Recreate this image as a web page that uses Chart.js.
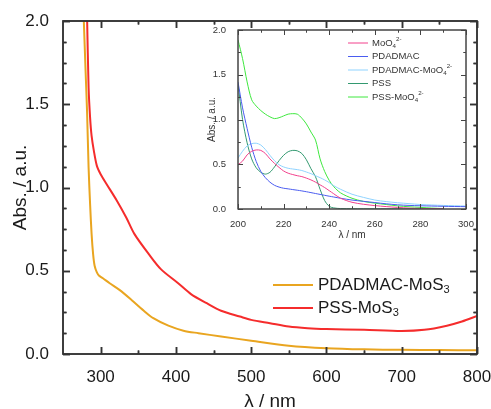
<!DOCTYPE html>
<html>
<head>
<meta charset="utf-8">
<script src="https://cdn.jsdelivr.net/npm/chart.js@4.4.1/dist/chart.umd.min.js"></script>
<style>
  body { margin: 0; background: #fff; }
  #wrap { position: relative; width: 491px; height: 409px; }
  #main { position: absolute; left: 0; top: 0; }
  #inset { position: absolute; left: 195px; top: 20px; }
</style>
</head>
<body>
<div id="wrap">
  <canvas id="main" width="491" height="409"></canvas>
  <canvas id="inset" width="285" height="225"></canvas>
</div>
<script>
// UV-Vis Spektren: Hauptplot (MoS3) + Einsatz (Vorstufen)

const FONT = "'Liberation Sans', Arial, sans-serif";

// Hauptplot
const orangeLam = [277.5, 280, 282, 284, 286, 288, 290, 292, 295, 298, 303, 312, 325, 341, 356, 370, 390, 410, 430, 460, 500, 550, 600, 650, 700, 750, 800];
const orangeAbs = [2.02, 1.7, 1.45, 1.12, 0.9, 0.72, 0.6, 0.53, 0.49, 0.47, 0.455, 0.425, 0.385, 0.325, 0.265, 0.215, 0.17, 0.14, 0.125, 0.105, 0.08, 0.05, 0.035, 0.028, 0.025, 0.024, 0.022];
const redLam = [282, 284, 286, 288, 291, 295, 300, 308, 321, 334, 345, 364, 380, 403, 420, 441, 460, 485, 500, 525, 550, 575, 600, 650, 700, 730, 760, 780, 800];
const redAbs = [2.02, 1.6, 1.42, 1.31, 1.22, 1.13, 1.08, 1.02, 0.925, 0.82, 0.72, 0.6, 0.51, 0.425, 0.36, 0.305, 0.26, 0.225, 0.205, 0.185, 0.165, 0.155, 0.15, 0.145, 0.138, 0.145, 0.17, 0.195, 0.228];
const mainLabels = ["PDADMAC-MoS_{3}", "PSS-MoS_{3}"];
const mainXTicks = [300, 400, 500, 600, 700, 800];
const mainXMinor = [350, 450, 550, 650, 750];
const mainYTicks = [0, 0.5, 1.0, 1.5, 2.0];
const mainYMinor = [0.125, 0.25, 0.375, 0.625, 0.75, 0.875, 1.125, 1.25, 1.375, 1.625, 1.75, 1.875];

// Einsatz
const insetLam = [200, 202, 204, 206, 208, 210, 212, 214, 216, 218, 220, 222, 224, 226, 228, 230, 232, 234, 236, 238, 240, 242, 245, 250, 255, 260, 265, 270, 275, 280, 285, 290, 300];
const moo4Abs = [0.495, 0.535, 0.605, 0.645, 0.66, 0.655, 0.62, 0.56, 0.51, 0.465, 0.425, 0.4, 0.385, 0.372, 0.362, 0.345, 0.325, 0.3, 0.27, 0.24, 0.205, 0.17, 0.12, 0.075, 0.053, 0.038, 0.027, 0.018, 0.01, 0.006, 0.004, 0.003, null];
const pdadmacAbs = [1.42, 1.13, 0.9, 0.69, 0.53, 0.42, 0.35, 0.3, 0.265, 0.245, 0.232, 0.225, 0.217, 0.21, 0.202, 0.193, 0.183, 0.173, 0.163, 0.153, 0.143, 0.134, 0.12, 0.1, 0.086, 0.072, 0.058, 0.047, 0.04, 0.036, 0.033, 0.03, 0.026];
const pdadmacMoo4Abs = [0.57, 0.645, 0.705, 0.73, 0.735, 0.715, 0.665, 0.6, 0.54, 0.495, 0.47, 0.455, 0.447, 0.44, 0.43, 0.413, 0.395, 0.372, 0.35, 0.325, 0.295, 0.26, 0.22, 0.165, 0.13, 0.1, 0.083, 0.07, 0.06, 0.05, 0.045, 0.04, 0.033];
const pssAbs = [1.4, 1.0, 0.74, 0.56, 0.46, 0.41, 0.39, 0.41, 0.47, 0.54, 0.6, 0.64, 0.655, 0.65, 0.62, 0.55, 0.45, 0.36, 0.22, 0.095, 0.03, 0.012, 0.005, 0.003, 0.002, 0.002, 0.002, 0.002, 0.002, 0.002, 0.002, 0.002, null];
const pssMoo4Abs = [1.89, 1.68, 1.42, 1.22, 1.15, 1.1, 1.06, 1.03, 1.01, 1.02, 1.04, 1.06, 1.065, 1.06, 1.015, 0.95, 0.86, 0.77, 0.56, 0.42, 0.32, 0.25, 0.18, 0.12, 0.085, 0.065, 0.05, 0.035, 0.025, 0.018, 0.01, 0.005, null];
const insetLabels = ["MoO_{4}^{2-}", "PDADMAC", "PDADMAC-MoO_{4}^{2-}", "PSS", "PSS-MoO_{4}^{2-}"];
const insetXTicks = [200, 220, 240, 260, 280, 300];
const insetXMinor = [210, 230, 250, 270, 290];
const insetYTicks = [0, 0.5, 1.0, 1.5, 2.0];
const insetYMinor = [0.25, 0.75, 1.25, 1.75];

function toPoints(xs, ys) {
  return xs.map((v, i) => ({ x: v, y: ys[i] }));
}

// Text mit _{tief} und ^{hoch}
function drawRich(ctx, text, x, y, size) {
  const parts = text.split(/([_^]\{[^}]*\})/).filter(Boolean);
  let cx = x;
  for (const p of parts) {
    let t = p, s = size, dy = 0;
    if (p[0] === "_") { t = p.slice(2, -1); s = size * 0.65; dy = size * 0.3; }
    else if (p[0] === "^") { t = p.slice(2, -1); s = size * 0.65; dy = -size * 0.38; }
    ctx.font = s + "px " + FONT;
    ctx.fillText(t, cx, y + dy);
    cx += ctx.measureText(t).width;
  }
}

// Rahmen + Ticks nach innen auf allen vier Seiten
function drawFrame(chart, cfg) {
  const ctx = chart.ctx;
  const a = chart.chartArea;
  const xs = chart.scales.x, ys = chart.scales.y;
  ctx.save();
  ctx.setTransform(1, 0, 0, 1, 0, 0);
  ctx.globalAlpha = 1;
  ctx.globalCompositeOperation = "source-over";
  ctx.setLineDash([]);
  ctx.strokeStyle = cfg.color;
  ctx.lineWidth = cfg.width;
  ctx.strokeRect(a.left, a.top, a.right - a.left, a.bottom - a.top);
  const xt = (vals, len) => vals.forEach(v => {
    const px = Math.round(xs.getPixelForValue(v)) + 0.5;
    ctx.beginPath();
    ctx.moveTo(px, a.bottom); ctx.lineTo(px, a.bottom - len);
    ctx.moveTo(px, a.top); ctx.lineTo(px, a.top + len);
    ctx.stroke();
  });
  const yt = (vals, len) => vals.forEach(v => {
    const py = Math.round(ys.getPixelForValue(v)) + 0.5;
    ctx.beginPath();
    ctx.moveTo(a.left, py); ctx.lineTo(a.left + len, py);
    ctx.moveTo(a.right, py); ctx.lineTo(a.right - len, py);
    ctx.stroke();
  });
  xt(cfg.xMajor, cfg.major); xt(cfg.xMinor, cfg.minor);
  yt(cfg.yMajor, cfg.major); yt(cfg.yMinor, cfg.minor);
  ctx.restore();
}

// eigene Legende an fester Stelle (+ Rahmen)
function makeLegend(id, cfg) {
  return {
    id: id,
    afterDraw(chart) {
      const ctx = chart.ctx;
      ctx.save();
      ctx.textBaseline = "middle";
      chart.data.datasets.forEach((ds, i) => {
        const yy = cfg.y + i * cfg.step;
        ctx.strokeStyle = ds.borderColor;
        ctx.lineWidth = ds.borderWidth;
        ctx.beginPath();
        ctx.moveTo(cfg.x, yy); ctx.lineTo(cfg.x + cfg.len, yy);
        ctx.stroke();
        ctx.fillStyle = cfg.color;
        drawRich(ctx, ds.label, cfg.x + cfg.len + cfg.gap, yy, cfg.size);
      });
      ctx.restore();
      if (cfg.frame) drawFrame(chart, cfg.frame);
    }
  };
}

function lineDs(label, pts, color, width) {
  return {
    label: label,
    data: pts,
    borderColor: color,
    borderWidth: width,
    pointRadius: 0,
    tension: 0.3,
    fill: false,
    spanGaps: false
  };
}

const mainFrame = { color: "#333", width: 1.5, major: 7, minor: 3.5,
  xMajor: mainXTicks, xMinor: mainXMinor, yMajor: mainYTicks, yMinor: mainYMinor };
const insetFrame = { color: "#444", width: 1, major: 5, minor: 2.5,
  xMajor: insetXTicks, xMinor: insetXMinor, yMajor: insetYTicks, yMinor: insetYMinor };

// Hauptdiagramm
const mainChart = new Chart(document.getElementById("main"), {
  type: "line",
  data: {
    datasets: [
      lineDs(mainLabels[0], toPoints(orangeLam, orangeAbs), "#E9A520", 2),
      lineDs(mainLabels[1], toPoints(redLam, redAbs), "#F52C2C", 2)
    ]
  },
  options: {
    responsive: false,
    animation: false,
    layout: { padding: { left: 0, top: 21, right: 14, bottom: 0 } },
    plugins: { legend: { display: false }, tooltip: { enabled: false } },
    scales: {
      x: {
        type: "linear", min: 250, max: 800,
        grid: { display: false }, border: { display: false },
        afterBuildTicks: s => { s.ticks = mainXTicks.map(v => ({ value: v })); },
        afterFit: s => { s.height = 55; s.paddingLeft = 0; s.paddingRight = 0; },
        ticks: { color: "#1a1a1a", font: { family: FONT, size: 17 }, padding: 5, maxRotation: 0 },
        title: { display: true, text: "λ / nm", color: "#1a1a1a", font: { family: FONT, size: 19 }, padding: { top: 0, bottom: -4 } }
      },
      y: {
        type: "linear", min: 0, max: 2,
        grid: { display: false }, border: { display: false },
        afterBuildTicks: s => { s.ticks = mainYTicks.map(v => ({ value: v })); },
        afterFit: s => { s.width = 63; s.paddingTop = 0; s.paddingBottom = 0; },
        ticks: { color: "#1a1a1a", font: { family: FONT, size: 17 }, padding: 6, callback: v => v.toFixed(1) },
        title: { display: true, text: "Abs. / a.u.", color: "#1a1a1a", font: { family: FONT, size: 19 }, padding: { top: 9, bottom: 0 } }
      }
    }
  },
  plugins: [
    makeLegend("mainLegend", { x: 273, y: 285, step: 23, len: 40, gap: 5, size: 17, color: "#1a1a1a", frame: mainFrame })
  ]
});

// Einsatzdiagramm
const insetColors = ["#F2408C", "#4A5CF0", "#8FD3FF", "#339970", "#3EE83E"];
const insetSeries = [moo4Abs, pdadmacAbs, pdadmacMoo4Abs, pssAbs, pssMoo4Abs];

const insetChart = new Chart(document.getElementById("inset"), {
  type: "line",
  data: {
    datasets: insetSeries.map((ys, i) => lineDs(insetLabels[i], toPoints(insetLam, ys), insetColors[i], 1))
  },
  options: {
    responsive: false,
    animation: false,
    layout: { padding: { left: 0, top: 10, right: 14, bottom: 0 } },
    plugins: { legend: { display: false }, tooltip: { enabled: false } },
    scales: {
      x: {
        type: "linear", min: 200, max: 300,
        grid: { display: false }, border: { display: false },
        afterBuildTicks: s => { s.ticks = insetXTicks.map(v => ({ value: v })); },
        afterFit: s => { s.height = 36; s.paddingLeft = 0; s.paddingRight = 0; },
        ticks: { color: "#333", font: { family: FONT, size: 9.5 }, padding: 2, maxRotation: 0 },
        title: { display: true, text: "λ / nm", color: "#333", font: { family: FONT, size: 10 }, padding: { top: 0, bottom: 4 } }
      },
      y: {
        type: "linear", min: 0, max: 2,
        grid: { display: false }, border: { display: false },
        afterBuildTicks: s => { s.ticks = insetYTicks.map(v => ({ value: v })); },
        afterFit: s => { s.width = 43; s.paddingTop = 0; s.paddingBottom = 0; },
        ticks: { color: "#333", font: { family: FONT, size: 9.5 }, padding: 4, callback: v => v.toFixed(1) },
        title: { display: true, text: "Abs. / a.u.", color: "#333", font: { family: FONT, size: 10 }, padding: { top: 11, bottom: 0 } }
      }
    }
  },
  plugins: [
    makeLegend("insetLegend", { x: 153, y: 23, step: 13.5, len: 20, gap: 4, size: 9.5, color: "#333", frame: insetFrame })
  ]
});

// Rahmen nochmal direkt nach dem Aufbau
drawFrame(mainChart, mainFrame);
drawFrame(insetChart, insetFrame);
</script>
</body>
</html>
